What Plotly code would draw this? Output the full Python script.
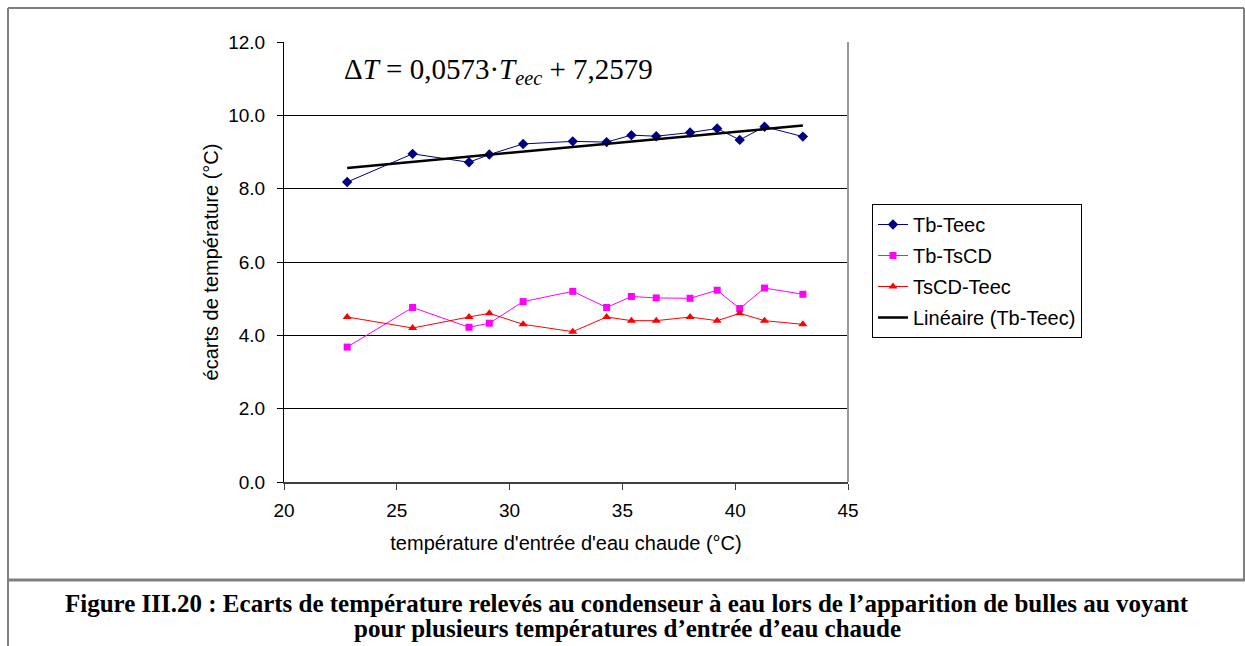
import plotly.graph_objects as go

# ---- data ----
t_eec = [22.8, 25.7, 28.2, 29.1, 30.6, 32.8, 34.3, 35.4, 36.5, 38.0, 39.2, 40.2, 41.3, 43.0]
tb_teec = [8.18, 8.95, 8.72, 8.93, 9.22, 9.29, 9.27, 9.46, 9.43, 9.53, 9.64, 9.33, 9.69, 9.42]
tb_tscd = [3.68, 4.76, 4.22, 4.33, 4.92, 5.20, 4.76, 5.06, 5.02, 5.01, 5.23, 4.73, 5.29, 5.12]
tscd_teec = [4.5, 4.2, 4.5, 4.6, 4.3, 4.1, 4.5, 4.4, 4.4, 4.5, 4.4, 4.6, 4.4, 4.3]
trend_slope = 0.0573
trend_intercept = 7.2579
x_ticks = [20, 25, 30, 35, 40, 45]
y_ticks = [0, 2, 4, 6, 8, 10, 12]

W, H = 1245, 646
L, R, T, B = 284, 848, 42, 482


def px(xp):
    return (xp - L) / (R - L)


def py(yp):
    return (B - yp) / (B - T)


trend_x = [t_eec[0], t_eec[-1]]
trend_y = [trend_slope * v + trend_intercept for v in trend_x]

fig = go.Figure()
fig.add_trace(go.Scatter(x=t_eec, y=tb_teec, name="Tb-Teec", mode="lines+markers",
                         line=dict(color="#000080", width=1),
                         marker=dict(symbol="diamond", size=8, color="#000080"),
                         legendgroup="a"))
fig.add_trace(go.Scatter(x=t_eec, y=tb_tscd, name="Tb-TsCD", mode="lines+markers",
                         line=dict(color="#FF00FF", width=1),
                         marker=dict(symbol="square", size=7, color="#FF00FF"),
                         legendgroup="b"))
fig.add_trace(go.Scatter(x=t_eec, y=tscd_teec, name="TsCD-Teec", mode="lines+markers",
                         line=dict(color="#FF0000", width=1),
                         marker=dict(symbol="triangle-up", size=8, color="#FF0000"),
                         legendgroup="c"))
fig.add_trace(go.Scatter(x=trend_x, y=trend_y, name="Linéaire (Tb-Teec)", mode="lines",
                         line=dict(color="#000000", width=2.5),
                         legendgroup="d"))

font_sans = "Liberation Sans, Arial, sans-serif"
font_serif = "Liberation Serif, Times New Roman, serif"

shapes = [
    # outer box
    dict(type="line", xref="paper", yref="paper", x0=px(8), x1=px(8), y0=py(8), y1=py(646),
         line=dict(color="#808080", width=2)),
    dict(type="line", xref="paper", yref="paper", x0=px(8), x1=px(1244), y0=py(8), y1=py(8),
         line=dict(color="#808080", width=2)),
    dict(type="line", xref="paper", yref="paper", x0=px(1244), x1=px(1244), y0=py(8), y1=py(580),
         line=dict(color="#808080", width=2)),
    dict(type="line", xref="paper", yref="paper", x0=px(8), x1=px(1245), y0=py(580), y1=py(580),
         line=dict(color="#808080", width=3)),
    # plot area right border
    dict(type="line", xref="paper", yref="paper", x0=1, x1=1, y0=0, y1=1,
         line=dict(color="#999999", width=2)),
]

annotations = [
    dict(text="Δ<i>T</i> = 0,0573·<i>T</i><sub><i>eec</i></sub> + 7,2579",
         xref="paper", yref="paper", x=px(342), y=py(71), xanchor="left", yanchor="middle",
         showarrow=False, font=dict(family=font_serif, size=29, color="#000")),
    dict(text="<b>Figure III.20 : Ecarts de température relevés au condenseur à eau lors de l’apparition de bulles au voyant</b>",
         xref="paper", yref="paper", x=px(627), y=py(603), xanchor="center", yanchor="middle",
         showarrow=False, font=dict(family=font_serif, size=25, color="#000")),
    dict(text="<b>pour plusieurs températures d’entrée d’eau chaude</b>",
         xref="paper", yref="paper", x=px(627), y=py(628), xanchor="center", yanchor="middle",
         showarrow=False, font=dict(family=font_serif, size=25, color="#000")),
]

fig.update_layout(
    width=W, height=H,
    margin=dict(l=L, r=W - R, t=T, b=H - B, pad=0),
    paper_bgcolor="white", plot_bgcolor="white",
    font=dict(family=font_sans, size=19, color="#000"),
    showlegend=True,
    legend=dict(x=px(872), y=py(204), xanchor="left", yanchor="top",
                bordercolor="#000", borderwidth=1, bgcolor="white",
                font=dict(family=font_sans, size=20, color="#000"),
                tracegroupgap=2, traceorder="grouped"),
    shapes=shapes,
    annotations=annotations,
)

fig.update_xaxes(range=[20, 45], tickvals=x_ticks, ticktext=[str(v) for v in x_ticks],
                 showgrid=False, zeroline=False, showline=True, linecolor="#404040", linewidth=2,
                 ticks="outside", ticklen=6, tickcolor="#404040", tickwidth=1,
                 ticklabelstandoff=4,
                 title=dict(text="température d'entrée d'eau chaude (°C)", standoff=16,
                            font=dict(family=font_sans, size=20)),
                 tickfont=dict(family=font_sans, size=19))
fig.update_yaxes(range=[0, 12], tickvals=y_ticks, ticktext=[f"{v:.1f}" for v in y_ticks],
                 showgrid=True, gridcolor="#000000", gridwidth=1, zeroline=False,
                 showline=True, linecolor="#000000", linewidth=1,
                 ticks="outside", ticklen=6, tickcolor="#000000",
                 ticklabelstandoff=8,
                 title=dict(text="écarts de température (°C)", standoff=4,
                            font=dict(family=font_sans, size=20)),
                 tickfont=dict(family=font_sans, size=19))

fig.write_html("out.html", config={"displayModeBar": False},
               post_script="document.body.style.margin='0px';")
